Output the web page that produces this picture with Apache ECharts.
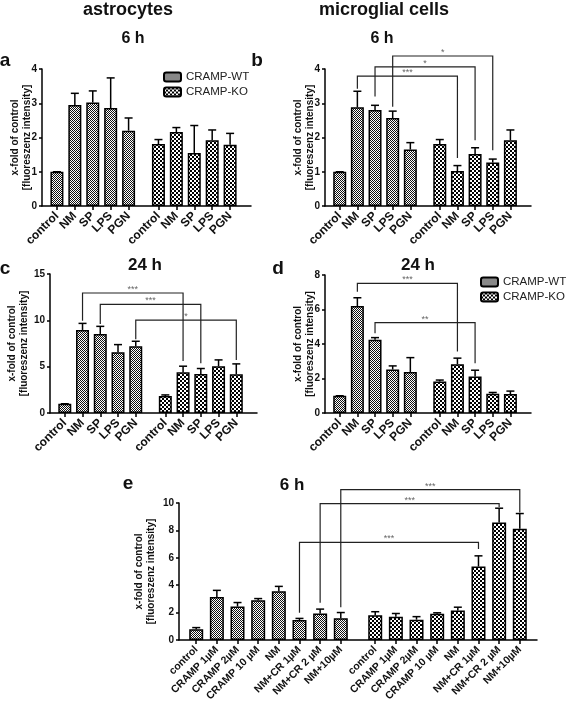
<!DOCTYPE html>
<html><head><meta charset="utf-8">
<script src="https://cdn.jsdelivr.net/npm/echarts@6/dist/echarts.min.js"></script>
<style>html,body{margin:0;padding:0;background:#fff}#c{width:567px;height:704px}</style>
</head><body><div id="c"></div>
<script>
const FONT = '"Liberation Sans", Arial, sans-serif';
// ---------- categories ----------
const catsShort = ['control', 'NM', 'SP', 'LPS', 'PGN'];
const catsE = ['control', 'CRAMP 1µM', 'CRAMP 2µM', 'CRAMP 10 µM', 'NM', 'NM+CR 1µM', 'NM+CR 2 µM', 'NM+10µM'];
const seriesNames = ['CRAMP-WT', 'CRAMP-KO'];
const yName = 'x-fold of control\n[fluoreszenz intensity]';
// ---------- panel a (astrocytes 6 h) ----------
const aWT = [1.00, 2.95, 3.02, 2.86, 2.20];
const aWTerr = [0, 0.34, 0.34, 0.88, 0.37];
const aKO = [1.81, 2.16, 1.55, 1.92, 1.79];
const aKOerr = [0.13, 0.13, 0.80, 0.30, 0.33];
// ---------- panel b (microglia 6 h) ----------
const bWT = [1.00, 2.88, 2.80, 2.57, 1.65];
const bWTerr = [0, 0.47, 0.14, 0.20, 0.20];
const bKO = [1.81, 1.02, 1.52, 1.27, 1.92];
const bKOerr = [0.13, 0.16, 0.18, 0.10, 0.30];
// brackets: [category, WT leg end, KO leg end, top, label]
const bBrackets = [['NM', 3.42, 1.40, 3.79, '***'], ['SP', 3.20, 1.92, 4.06, '*'], ['LPS', 2.90, 1.63, 4.38, '*']];
// ---------- panel c (astrocytes 24 h) ----------
const cWT = [1.00, 8.96, 8.53, 6.56, 7.20];
const cWTerr = [0, 0.71, 0.82, 0.82, 0.54];
const cKO = [1.83, 4.40, 4.22, 5.05, 4.19];
const cKOerr = [0.12, 0.65, 0.58, 0.68, 1.11];
const cBrackets = [['NM', 9.95, 5.60, 12.95, '***'], ['SP', 9.60, 5.38, 11.72, '***'], ['PGN', 7.95, 5.73, 10.03, '*']];
// ---------- panel d (microglia 24 h) ----------
const dWT = [1.00, 6.20, 4.24, 2.52, 2.37];
const dWTerr = [0, 0.48, 0.13, 0.21, 0.84];
const dKO = [1.83, 2.83, 2.12, 1.12, 1.10];
const dKOerr = [0.08, 0.35, 0.36, 0.07, 0.17];
const dBrackets = [['NM', 7.03, 3.56, 7.51, '***'], ['SP', 4.62, 2.89, 5.24, '**']];
// ---------- panel e (6 h, CRAMP treatment) ----------
const eWT = [0.78, 3.14, 2.44, 2.90, 3.55, 1.45, 1.93, 1.59];
const eWTerr = [0.12, 0.48, 0.29, 0.12, 0.36, 0.12, 0.32, 0.41];
const eKO = [1.81, 1.70, 1.48, 1.91, 2.15, 5.36, 8.58, 8.12];
const eKOerr = [0.25, 0.23, 0.22, 0.07, 0.24, 0.78, 1.04, 1.11];
const eBrackets = [['NM+CR 1µM', 1.98, 6.64, 7.13, '***'], ['NM+CR 2 µM', 2.71, 9.71, 9.96, '***'], ['NM+10µM', 2.39, 9.30, 10.97, '***']];
// ---------- y axes ----------
const yMaxA = 4, yIntA = 1, yMaxB = 4, yIntB = 1, yMaxC = 15, yIntC = 5, yMaxD = 8, yIntD = 2, yMaxE = 10, yIntE = 2;

// ---------- patterns ----------
function pattern(size, cell, dark) {
  const c = document.createElement('canvas'); c.width = c.height = size;
  const g = c.getContext('2d'); g.fillStyle = '#fff'; g.fillRect(0, 0, size, size);
  g.fillStyle = dark;
  for (let y = 0; y < size; y++) for (let x = 0; x < size; x++)
    if (((Math.floor(x / cell) + Math.floor(y / cell)) % 2) === 0) g.fillRect(x, y, 1, 1);
  return { image: c, repeat: 'repeat' };
}
const WT_FILL = pattern(2, 1, '#111');
const KO_FILL = pattern(4, 2, '#000');

// ---------- slot layout on a category axis ----------
const STEP = 3, GAP = 5, PAD_L = 2;
function buildSlots(cats, padR) {
  const n = cats.length;
  const total = PAD_L + (n - 1) * STEP + GAP + (n - 1) * STEP + 1 + padR;
  const list = []; for (let i = 0; i < total; i++) list.push('_' + i);
  const idx = { WT: [], KO: [] };
  cats.forEach((c, i) => { const s = PAD_L + i * STEP; list[s] = 'WT|' + c; idx.WT.push(s); });
  cats.forEach((c, i) => { const s = PAD_L + (n - 1) * STEP + GAP + i * STEP; list[s] = 'KO|' + c; idx.KO.push(s); });
  return { list, idx, total };
}

function renderErr(params, api) {
  const x = api.value(0), m = api.value(1), e = api.value(2);
  const p0 = api.coord([x, m]), p1 = api.coord([x, m + e]);
  const cap = 4;
  return { type: 'group', children: [
    { type: 'line', shape: { x1: p0[0], y1: p0[1], x2: p1[0], y2: p1[1] }, style: { stroke: '#000', lineWidth: 1.5 } },
    { type: 'line', shape: { x1: p1[0] - cap, y1: p1[1], x2: p1[0] + cap, y2: p1[1] }, style: { stroke: '#000', lineWidth: 1.5 } }
  ] };
}
function makeRenderBracket(labels) {
  return function (params, api) {
    const x1 = api.value(0), y1 = api.value(1), x2 = api.value(2), y2 = api.value(3), t = api.value(4);
    const a = api.coord([x1, y1]), b = api.coord([x1, t]), c = api.coord([x2, t]), d = api.coord([x2, y2]);
    return { type: 'group', children: [
      { type: 'polyline', shape: { points: [a, b, c, d] }, style: { stroke: '#222', lineWidth: 1.2, fill: null } },
      { type: 'text', x: (b[0] + c[0]) / 2, y: b[1] + 1, style: { text: labels[params.dataIndex], fontSize: 9, fill: '#666', align: 'center', verticalAlign: 'bottom', fontFamily: FONT } }
    ] };
  };
}

const panels = [
  { grid: { left: 42, top: 69, width: 209, height: 137 }, ymax: yMaxA, yint: yIntA, cats: catsShort, wt: aWT, wtE: aWTerr, ko: aKO, koE: aKOerr, br: [], barW: 13, padR: 3, nameGap: 9, lblSize: 12 },
  { grid: { left: 325, top: 69, width: 206, height: 137 }, ymax: yMaxB, yint: yIntB, cats: catsShort, wt: bWT, wtE: bWTerr, ko: bKO, koE: bKOerr, br: bBrackets, barW: 13, padR: 3, nameGap: 9, lblSize: 12 },
  { grid: { left: 50, top: 274, width: 207, height: 139 }, ymax: yMaxC, yint: yIntC, cats: catsShort, wt: cWT, wtE: cWTerr, ko: cKO, koE: cKOerr, br: cBrackets, barW: 13, padR: 3, nameGap: 20, lblSize: 12 },
  { grid: { left: 325, top: 275, width: 206, height: 138 }, ymax: yMaxD, yint: yIntD, cats: catsShort, wt: dWT, wtE: dWTerr, ko: dKO, koE: dKOerr, br: dBrackets, barW: 13, padR: 3, nameGap: 9, lblSize: 12 },
  { grid: { left: 179, top: 503, width: 358, height: 138 }, ymax: yMaxE, yint: yIntE, cats: catsE, wt: eWT, wtE: eWTerr, ko: eKO, koE: eKOerr, br: eBrackets, barW: 14, padR: 2, nameGap: 22, lblSize: 10.5 }
];

const option = { animation: false, backgroundColor: '#fff', textStyle: { fontFamily: FONT },
  grid: [], xAxis: [], yAxis: [], series: [], legend: [], graphic: [] };

panels.forEach((p, k) => {
  const s = buildSlots(p.cats, p.padR);
  option.grid.push(Object.assign({ containLabel: false }, p.grid));
  const show = (i, v) => v.charAt(0) !== '_';
  option.xAxis.push({ type: 'category', gridIndex: k, data: s.list, boundaryGap: true,
    axisLine: { lineStyle: { color: '#000', width: 1.5 } },
    axisTick: { show: true, interval: show, alignWithLabel: true, length: 4, lineStyle: { color: '#000', width: 1.5 } },
    axisLabel: { interval: show, rotate: 45, margin: 8, fontSize: p.lblSize, fontWeight: 'bold', color: '#111', fontFamily: FONT,
      formatter: v => (v.charAt(0) === '_' ? '' : v.split('|')[1]) },
    splitLine: { show: false } });
  option.yAxis.push({ type: 'value', gridIndex: k, min: 0, max: p.ymax, interval: p.yint,
    name: yName, nameLocation: 'middle', nameRotate: 90, nameGap: p.nameGap, nameMoveOverlap: false,
    nameTextStyle: { fontSize: 10, fontWeight: 'bold', lineHeight: 12, color: '#111', fontFamily: FONT },
    axisLine: { show: true, lineStyle: { color: '#000', width: 1.5 } },
    axisTick: { show: true, length: 3, lineStyle: { color: '#000', width: 1.5 } },
    axisLabel: { fontSize: 10, fontWeight: 'bold', color: '#111', margin: 5, fontFamily: FONT },
    splitLine: { show: false } });
  const wtData = new Array(s.total).fill(null), koData = new Array(s.total).fill(null);
  p.wt.forEach((v, i) => { wtData[s.idx.WT[i]] = v; });
  p.ko.forEach((v, i) => { koData[s.idx.KO[i]] = v; });
  option.series.push({ type: 'bar', name: seriesNames[0], xAxisIndex: k, yAxisIndex: k, stack: 'p' + k, barWidth: p.barW,
    data: wtData, itemStyle: { color: WT_FILL, borderColor: '#000', borderWidth: 1.5 }, z: 2 });
  option.series.push({ type: 'bar', name: seriesNames[1], xAxisIndex: k, yAxisIndex: k, stack: 'p' + k, barWidth: p.barW,
    data: koData, itemStyle: { color: KO_FILL, borderColor: '#000', borderWidth: 1.5 }, z: 2 });
  const errData = [];
  p.wt.forEach((v, i) => errData.push([s.idx.WT[i], v, p.wtE[i]]));
  p.ko.forEach((v, i) => errData.push([s.idx.KO[i], v, p.koE[i]]));
  option.series.push({ type: 'custom', xAxisIndex: k, yAxisIndex: k, renderItem: renderErr, data: errData, z: 3, clip: false, silent: true });
  if (p.br.length) {
    const brData = p.br.map(b => { const ci = p.cats.indexOf(b[0]); return [s.idx.WT[ci], b[1], s.idx.KO[ci], b[2], b[3]]; });
    option.series.push({ type: 'custom', xAxisIndex: k, yAxisIndex: k, renderItem: makeRenderBracket(p.br.map(b => b[4])), data: brData, z: 4, clip: false, silent: true });
  }
});

option.legend = [
  { data: seriesNames, orient: 'vertical', left: 163, top: 71, itemWidth: 17, itemHeight: 9, itemGap: 3, padding: 0, selectedMode: false,
    textStyle: { fontSize: 11.5, color: '#222', fontFamily: FONT } },
  { data: seriesNames, orient: 'vertical', left: 480, top: 276, itemWidth: 17, itemHeight: 9, itemGap: 3, padding: 0, selectedMode: false,
    textStyle: { fontSize: 11.5, color: '#222', fontFamily: FONT } }
];

function txt(t, x, y, size) {
  return { type: 'text', x: x, y: y, silent: true, style: { text: t, fontSize: size, fontWeight: 'bold', fill: '#111', fontFamily: FONT, align: 'center', verticalAlign: 'middle' } };
}
option.graphic = [
  txt('astrocytes', 128, 10, 18), txt('microglial cells', 384, 10, 18),
  txt('6 h', 133, 39, 16), txt('6 h', 382, 39, 16),
  txt('24 h', 145, 265, 17), txt('24 h', 418, 265, 17), txt('6 h', 292, 485, 17),
  txt('a', 5, 61, 19), txt('b', 257, 61, 19), txt('c', 5, 269, 19), txt('d', 278, 269, 19), txt('e', 128, 484, 19)
];

const chart = echarts.init(document.getElementById('c'), null, { renderer: 'canvas' });
chart.setOption(option);
</script>
</body></html>
